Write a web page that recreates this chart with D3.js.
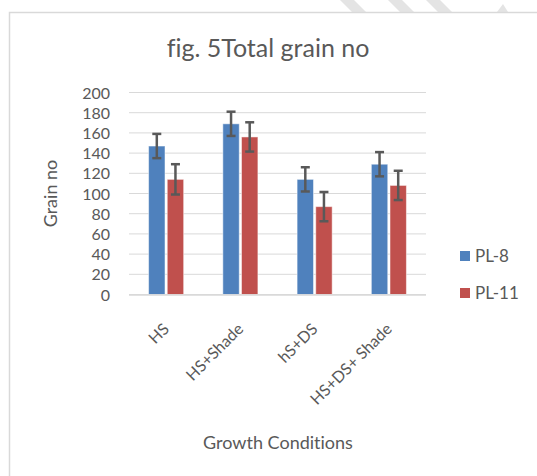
<!DOCTYPE html>
<html><head><meta charset="utf-8">
<script src="https://cdn.jsdelivr.net/npm/d3@7"></script>
<style>body{margin:0;background:#fff}svg{display:block}text{font-family:Lato,"Open Sans",sans-serif;fill:#595959;font-variant-ligatures:none}</style>
</head><body><svg id="c" width="537" height="476"></svg>
<script>
const categories = ["HS","HS+Shade","hS+DS","HS+DS+ Shade"];
const seriesNames = ["PL-8","PL-11"];
const pl8 = [147,169,114,129];
const pl11 = [114,156,87,108];
const pl8Err = [12,12,12,12];
const pl11Err = [15,14.5,14.5,14.5];
const yTicks = [0,20,40,60,80,100,120,140,160,180,200];
const colors = ["#4F81BD","#C0504D"];

const svg = d3.select("#c");
// decorative watermark stripes above frame
const stripes=[[340,0],[388,0],[426,0]];
stripes.forEach(s=>svg.append("polygon").attr("points",`${s[0]},0 ${s[0]+14},0 ${s[0]+26},12 ${s[0]+12},12`).attr("fill","#e4e4e4"));
svg.append("polygon").attr("points","497,12 508,12 503,4").attr("fill","#e4e4e4");
// frame
svg.append("path").attr("d","M9.5,476 V12.5 H537").attr("fill","none").attr("stroke","#d9d9d9").attr("stroke-width",1.5);

const L=129,R=426,T=92.5,B=294.5;
const x0=d3.scaleBand().domain(categories).range([L,R]).paddingInner(0).paddingOuter(0);
const x1=d3.scaleBand().domain(seriesNames).range([0,x0.bandwidth()]).paddingInner(0.12).paddingOuter(1.05);
const y=d3.scaleLinear().domain([0,200]).range([B,T]);

const g=svg.append("g");
g.selectAll("line.grid").data(yTicks).join("line").attr("x1",L).attr("x2",R)
 .attr("y1",d=>y(d)).attr("y2",d=>y(d)).attr("stroke","#d9d9d9").attr("stroke-width",1);
const yAxis=d3.axisLeft(y).tickValues(yTicks).tickSize(0).tickPadding(19);
const ya=svg.append("g").attr("transform",`translate(${L},0)`).call(yAxis);
ya.select(".domain").remove();
ya.selectAll("text").style("font-size","16px").attr("fill","#595959").attr("dy","0.35em");

const data=[pl8,pl11], errs=[pl8Err,pl11Err];
seriesNames.forEach((s,si)=>{
  categories.forEach((c,ci)=>{
    const v=data[si][ci], e=errs[si][ci];
    const bx=x0(c)+x1(s), bw=x1.bandwidth();
    g.append("rect").attr("x",bx).attr("y",y(v)).attr("width",bw).attr("height",y(0)-y(v))
     .attr("fill",colors[si]).attr("stroke","#ffffff").attr("stroke-opacity",0.5).attr("stroke-width",1);
    const cx=bx+bw/2;
    const eg=g.append("g").attr("stroke","#595959").attr("stroke-width",2.5);
    eg.append("line").attr("x1",cx).attr("x2",cx).attr("y1",y(v+e)).attr("y2",y(v-e));
    eg.append("line").attr("x1",cx-4.5).attr("x2",cx+4.5).attr("y1",y(v+e)).attr("y2",y(v+e));
    eg.append("line").attr("x1",cx-4.5).attr("x2",cx+4.5).attr("y1",y(v-e)).attr("y2",y(v-e));
  });
});
// baseline
svg.append("line").attr("x1",L).attr("x2",R).attr("y1",B+0.5).attr("y2",B+0.5).attr("stroke","#d9d9d9").attr("stroke-width",1.5);

// x labels
svg.selectAll("text.xl").data(categories).join("text").attr("class","xl")
 .attr("text-anchor","end").style("font-size","16px")
 .attr("transform",d=>`translate(${x0(d)+x0.bandwidth()/2+4},330) rotate(-45)`).text(d=>d);

svg.append("text").attr("x",268).attr("y",57).attr("text-anchor","middle").style("font-size","25px").text("fig. 5Total grain no");
svg.append("text").attr("x",278).attr("y",449).attr("text-anchor","middle").style("font-size","18px").text("Growth Conditions");
svg.append("text").attr("transform",`translate(57,${(T+B)/2}) rotate(-90)`).attr("text-anchor","middle").style("font-size","18px").text("Grain no");

// legend
const lg=svg.append("g");
seriesNames.forEach((s,i)=>{
  const ly=251+i*37;
  lg.append("rect").attr("x",460).attr("y",ly).attr("width",10).attr("height",10).attr("fill",colors[i]);
  lg.append("text").attr("x",475).attr("y",ly+5).attr("dy","0.35em").style("font-size","17px").text(s);
});
</script></body></html>
